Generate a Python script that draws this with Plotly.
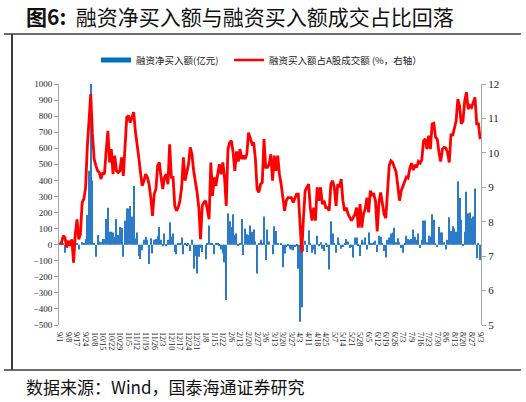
"""融资净买入额与融资买入额成交占比 (图6)"""

import plotly.graph_objects as go

# === 資料 (日度, 2024/9 - 2025/9) ===
tick_labels = [
    '9/1', '9/8', '9/17', '9/24', '10/8', '10/15', '10/22', '10/29',
    '11/5', '11/12', '11/19', '11/26', '12/3', '12/10', '12/17', '12/24',
    '12/31', '1/8', '1/15', '1/22', '2/6', '2/13', '2/20', '2/27',
    '3/6', '3/13', '3/20', '3/27', '4/3', '4/11', '4/18', '4/25',
    '5/7', '5/14', '5/21', '5/28', '6/5', '6/12', '6/19', '6/26',
    '7/3', '7/9', '7/16', '7/23', '7/30', '8/6', '8/13', '8/20', '8/27', '9/3',
]

# 融资净买入额 (亿元)
net_buy = [
    5, 10, 5, -50, 5, 0, 5, -5, 5, 0, 5, -30, 0, 15, 5, 35, 185, 460, 1000,
    400, 10, -75, 60, 20, 15, 35, 35, 160, 230, 80, 80, 75, 50, 160, 60,
    110, 105, -75, 150, 225, 225, 240, 175, 365, 40, 75, -70, -90, -35, 30,
    50, 30, -120, 40, -55, 30, 35, 55, 110, 30, -10, 70, -10, 30, 140,
    50, 70, -45, -60, 10, 10, 45, -60, 5, -10, 10, -40, 30, -150, -70,
    -180, -75, -20, -45, 0, -90, 5, 120, 10, 5, -60, 5, 10, -10, -30,
    -55, -110, -345, 195, 145, 110, 190, 60, 70, -5, 5, 160, -65, 100, 65,
    60, 120, 80, 95, 20, -180, 5, 30, 5, 175, -95, 95, 20, 0, -60,
    115, 85, 10, 0,
    10, -140, -55, -15, -10, -25, -30, -35, -15, -10, -150, -480, -390, -40,
    25, -45, 90, 5, -50, -30, -60, 55, -10, 15, -25, -40, 10, -15, -155,
    145, 70, 5, -50, 45, 10, -25, -15, 10, 35, 20, -20, -15, -80, 45, 45,
    -5, -70, 30, 15, 45, -30, 75,
    10, 5, 15, 25, -45, 55, 50, 5, -40, -80, 30, 45, 70, 75, 105, 15, 40,
    15, -20, -50, 5, 55, 35, 30, 35, 95, 50, 30, 70, -20, 30,
    150, 150, 15, 55, 50, 190, 155, 10, -15, 110, 75, 75, 15, -30, 30, 170,
    85, 115, 100, 80, 395, 290, 155, -5, 80, 330, 195, 200, 165, 175, 350,
    -85, 10, -95,
]

# 融资买入额占A股成交额 (%)
buy_ratio = [
    7.35, 7.40, 7.59, 7.54, 7.25, 7.45, 7.30, 7.49, 6.81, 7.64, 8.07, 7.49,
    7.64, 8.56, 8.66, 8.99, 10.16, 10.93, 11.71, 10.55, 9.82, 9.63, 9.48,
    9.43, 9.24, 9.43, 9.38, 10.06, 10.64, 9.72, 10.11, 9.38, 9.92, 9.48,
    9.43, 9.48, 9.87, 9.33, 10.35, 11.03, 11.08, 10.88, 11.03, 11.18, 10.64,
    10.30, 9.87, 9.43, 9.04, 9.19, 9.38, 9.29, 9.09, 8.70, 8.17, 8.80, 8.95,
    9.63, 9.72, 9.29, 8.95, 9.29, 9.38, 9.09, 10.25,
    9.29, 9.29, 8.46, 8.32, 8.41, 8.61, 9.00, 9.87, 9.19, 9.48, 9.67, 10.16,
    9.96, 9.48, 9.19, 8.85, 8.41, 7.49, 8.46, 8.56, 8.61, 8.32, 8.07, 9.72,
    8.75, 9.29, 9.04, 9.38, 9.67, 9.38, 9.72, 9.29, 8.46, 10.11, 10.30,
    10.35, 10.01, 9.48, 10.04, 9.75, 10.11, 9.82, 9.92, 9.82, 9.96, 10.59,
    10.40, 10.26, 10.30, 9.82, 8.95, 8.85, 9.09, 9.14, 10.40, 9.58, 9.58,
    9.67, 9.96, 9.19, 9.92, 9.48, 9.92, 9.38, 9.09, 8.66, 8.32, 8.61, 8.70,
    8.70, 8.70, 8.56, 8.70, 8.80, 8.80, 8.03, 7.11, 8.12, 8.90, 9.00, 9.09,
    8.41, 8.03, 8.41, 8.03, 9.00, 8.61, 9.00, 8.51, 8.61, 8.41, 8.41, 8.32,
    9.09, 9.19, 9.00, 8.46, 9.09, 9.00, 9.24, 8.61, 8.32, 8.41, 8.22, 8.12,
    8.03, 8.12, 8.22, 8.41, 7.83, 8.51, 7.83, 8.22, 8.37, 8.70, 8.27,
    8.90, 8.78, 8.80, 8.60, 7.72, 8.55, 8.85, 8.50, 8.22, 8.10, 8.92, 9.63,
    9.77, 9.72, 9.58, 9.45,
    9.04, 8.61, 8.90, 9.02, 9.15, 9.30, 9.27, 9.55, 9.70, 9.50, 9.65, 9.58,
    9.75, 9.70, 9.80,
    10.35, 10.40, 10.11, 10.50, 10.11, 10.84, 10.86, 10.45, 10.40, 10.01,
    9.75, 10.11, 10.16, 10.14, 10.01, 9.72, 10.55, 10.50, 10.74, 10.93,
    11.56, 11.37, 10.84, 10.93, 11.51, 11.76, 11.27, 11.37, 11.32, 11.50,
    11.61, 10.84, 10.84, 10.40,
]

# === 配色 ===
COLORS = {
    'bar': '#2B7BC8',
    'line': '#FF0000',
    'axis': '#A6A6A6',
    'text': '#222222',
    'frame': '#3C3C3C',
}

W, H = 526, 402
PLOT_L, PLOT_R, PLOT_T, PLOT_B = 59, 481, 84, 325


def px(x):
    """像素 x -> paper 座標"""
    return (x - PLOT_L) / (PLOT_R - PLOT_L)


def py(y):
    """像素 y -> paper 座標"""
    return (PLOT_B - y) / (PLOT_B - PLOT_T)


x = list(range(len(net_buy)))

fig = go.Figure()

fig.add_trace(go.Bar(
    x=x, y=net_buy,
    marker=dict(color=COLORS['bar'], line=dict(width=0)),
    showlegend=False,
    hovertemplate='%{y}<extra>融资净买入额</extra>',
))

fig.add_trace(go.Scatter(
    x=x, y=buy_ratio, yaxis='y2',
    mode='lines',
    line=dict(color=COLORS['line'], width=2.8),
    showlegend=False,
    hovertemplate='%{y:.2f}<extra>占比</extra>',
))

# 圖例用的假 trace (寬色塊樣式), 兩個圖例分開擺
fig.add_trace(go.Scatter(
    x=[None], y=[None], mode='lines',
    line=dict(color='#0070C0', width=5),
    name='融资净买入额(亿元)',
    legend='legend',
))
fig.add_trace(go.Scatter(
    x=[None], y=[None], mode='lines', yaxis='y2',
    line=dict(color=COLORS['line'], width=2.5),
    name='融资买入额占A股成交额 (%，右轴）',
    legend='legend2',
))

serif = 'Liberation Serif, Times New Roman, serif'
cjk = 'Noto Sans CJK SC, sans-serif'

legend_style = dict(
    orientation='h',
    y=py(60),
    xanchor='left', yanchor='middle',
    font=dict(family=cjk, size=9.5, color=COLORS['text']),
    itemwidth=30,
    bgcolor='rgba(0,0,0,0)',
)

fig.update_layout(
    width=W, height=H,
    margin=dict(l=PLOT_L, r=W - PLOT_R, t=PLOT_T, b=H - PLOT_B, pad=0),
    paper_bgcolor='white',
    plot_bgcolor='white',
    bargap=0.35,
    xaxis=dict(
        range=[-0.5, len(net_buy) - 0.5],
        tickmode='array',
        tickvals=x[::5],
        ticktext=tick_labels,
        tickangle=90,
        tickfont=dict(family=serif, size=8, color=COLORS['text']),
        ticklabelstandoff=6,
        showgrid=False, zeroline=False, showline=False,
        ticks='',
    ),
    yaxis=dict(
        range=[-500, 1000],
        dtick=100,
        tickfont=dict(family=serif, size=9, color=COLORS['text']),
        showgrid=False, zeroline=False,
        showline=True, linecolor=COLORS['axis'], linewidth=1,
        ticks='outside', ticklen=4, tickcolor=COLORS['axis'],
    ),
    yaxis2=dict(
        range=[5, 12],
        dtick=1,
        overlaying='y', side='right',
        tickfont=dict(family=serif, size=11, color=COLORS['text']),
        showgrid=False, zeroline=False,
        showline=True, linecolor=COLORS['axis'], linewidth=1,
        ticks='outside', ticklen=4, tickcolor=COLORS['axis'],
    ),
    legend=dict(legend_style, x=px(96)),
    legend2=dict(legend_style, x=px(229)),
    annotations=[
        dict(
            text='<b>图6:</b>  融资净买入额与融资买入额成交占比回落',
            x=px(24), y=py(16), xref='paper', yref='paper',
            xanchor='left', yanchor='middle', showarrow=False,
            font=dict(family=cjk, size=21, color='#111111'),
        ),
        dict(
            text='数据来源：Wind，国泰海通证券研究',
            x=px(24), y=py(386), xref='paper', yref='paper',
            xanchor='left', yanchor='middle', showarrow=False,
            font=dict(family=cjk, size=17, color='#111111'),
        ),
    ],
    shapes=[
        # 標題下橫線
        dict(type='line', xref='paper', yref='paper',
             x0=px(4), x1=px(521), y0=py(34), y1=py(34),
             line=dict(color=COLORS['frame'], width=1.5)),
        # 左側直線
        dict(type='line', xref='paper', yref='paper',
             x0=px(12), x1=px(12), y0=py(34), y1=py(370),
             line=dict(color=COLORS['frame'], width=2)),
        # 底部橫線
        dict(type='line', xref='paper', yref='paper',
             x0=px(4), x1=px(521), y0=py(370), y1=py(370),
             line=dict(color=COLORS['frame'], width=1.5)),
    ],
)

# 頁面去掉 body 預設邊距, 讓圖貼齊視窗
fig.write_html(
    'out.html',
    config={'displayModeBar': False},
    post_script="document.body.style.margin='0';"
                "document.body.style.overflow='hidden';",
)
